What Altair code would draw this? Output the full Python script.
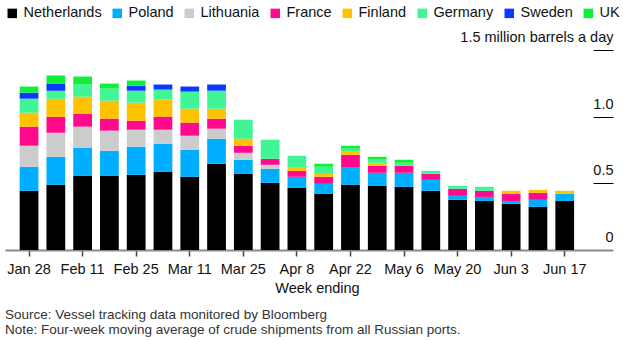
import altair as alt
import pandas as pd

weeks = ["Jan 28", "Feb 4", "Feb 11", "Feb 18", "Feb 25", "Mar 4", "Mar 11", "Mar 18",
         "Mar 25", "Apr 1", "Apr 8", "Apr 15", "Apr 22", "Apr 29", "May 6", "May 13",
         "May 20", "May 27", "Jun 3", "Jun 10", "Jun 17"]
tick_weeks = weeks[::2]

countries = ["Netherlands", "Poland", "Lithuania", "France", "Finland", "Germany", "Sweden", "UK"]
colors = ["#000000", "#00aeff", "#cccccc", "#ff0a8c", "#ffc200", "#3ff595", "#0a38ff", "#10f03a"]

# million barrels a day (segment values)
netherlands = [0.444, 0.489, 0.556, 0.556, 0.564, 0.586, 0.549, 0.647, 0.571, 0.504, 0.466,
               0.421, 0.489, 0.481, 0.474, 0.444, 0.376, 0.368, 0.346, 0.323, 0.368]
poland = [0.180, 0.210, 0.211, 0.188, 0.210, 0.211, 0.203, 0.188, 0.106, 0.105, 0.083,
          0.075, 0.128, 0.098, 0.105, 0.082, 0.030, 0.030, 0.022, 0.053, 0.053]
lithuania = [0.158, 0.181, 0.158, 0.151, 0.128, 0.105, 0.105, 0.075, 0.052, 0.030, 0.0,
             0.0, 0.0, 0.0, 0.0, 0.0, 0.0, 0.0, 0.0, 0.0, 0.0]
france = [0.143, 0.120, 0.098, 0.090, 0.068, 0.098, 0.098, 0.075, 0.053, 0.045, 0.045,
          0.053, 0.097, 0.053, 0.053, 0.045, 0.053, 0.046, 0.053, 0.053, 0.0]
finland = [0.105, 0.135, 0.127, 0.135, 0.135, 0.128, 0.105, 0.075, 0.053, 0.0, 0.023,
           0.022, 0.023, 0.022, 0.0, 0.0, 0.0, 0.0, 0.023, 0.022, 0.023]
germany = [0.105, 0.060, 0.091, 0.091, 0.090, 0.075, 0.128, 0.135, 0.142, 0.143, 0.090,
           0.053, 0.022, 0.023, 0.022, 0.023, 0.022, 0.030, 0.0, 0.0, 0.0]
sweden = [0.045, 0.053, 0.0, 0.0, 0.038, 0.038, 0.038, 0.046, 0.0, 0.0, 0.0,
          0.0, 0.0, 0.0, 0.0, 0.0, 0.0, 0.0, 0.0, 0.0, 0.0]
uk = [0.046, 0.060, 0.060, 0.037, 0.038, 0.0, 0.0, 0.0, 0.0, 0.0, 0.0,
      0.023, 0.023, 0.022, 0.023, 0.0, 0.0, 0.0, 0.0, 0.0, 0.0]

series = [netherlands, poland, lithuania, france, finland, germany, sweden, uk]

rows = []
for ci, (name, vals) in enumerate(zip(countries, series)):
    for w, v in zip(weeks, vals):
        rows.append({"week": w, "country": name, "value": v, "order": ci})
df = pd.DataFrame(rows)

FONT = "Liberation Sans"

bars = alt.Chart(df).mark_bar().encode(
    x=alt.X("week:N", sort=weeks,
            scale=alt.Scale(paddingInner=0.3, paddingOuter=1, align=0.274),
            axis=alt.Axis(values=tick_weeks, title="Week ending", labelAngle=0,
                          labelFontSize=14.5, labelColor="#111", labelFont=FONT,
                          labelPadding=6, tickSize=6, tickColor="#444", tickWidth=1.5,
                          domainColor="#8a8a8a", domainWidth=2,
                          titleFontSize=14.5, titleFontWeight="normal", titleColor="#111",
                          titleFont=FONT, titlePadding=6, titleX=312)),
    y=alt.Y("value:Q", stack="zero",
            scale=alt.Scale(domain=[0, 1.5], nice=False),
            axis=alt.Axis(orient="right", values=[0, 0.5, 1.0, 1.5], title=None,
                          offset=-20, domain=False, grid=False,
                          tickSize=20, tickColor="#000", tickWidth=1,
                          tickOpacity={"condition": {"test": "datum.value === 0", "value": 0}, "value": 1},
                          labelAlign="right", labelPadding=0, labelBaseline="alphabetic",
                          labelOffset=-8.5, labelFontSize=14.5, labelColor="#111", labelFont=FONT,
                          labelExpr="datum.value === 0 ? '0' : (datum.value === 1.5 ? '1.5 million barrels a day' : format(datum.value, '.1f'))")),
    color=alt.Color("country:N", sort=countries,
                    scale=alt.Scale(domain=countries, range=colors),
                    legend=alt.Legend(orient="none", legendX=0, legendY=-44,
                                      direction="horizontal", title=None,
                                      symbolType="square", symbolSize=90,
                                      symbolStrokeWidth=0, labelFontSize=14.5,
                                      labelFont=FONT, labelColor="#111",
                                      labelOffset=4, columnPadding=8, padding=0,
                                      labelLimit=200)),
    order=alt.Order("order:Q", sort="ascending"),
)

chart = bars.properties(
    width=608,
    height=200,
    autosize=alt.AutoSizeParams(type="none"),
    padding={"left": 5, "top": 50, "right": 10, "bottom": 90},
    title=alt.TitleParams(
        text=["Source: Vessel tracking data monitored by Bloomberg",
              "Note: Four-week moving average of crude shipments from all Russian ports."],
        orient="bottom", anchor="start", fontSize=13.5, fontWeight="normal",
        color="#333", font=FONT, lineHeight=15, offset=13, frame="group"),
).configure_view(stroke=None)

chart.save("out.html", embed_options={"renderer": "svg", "actions": False})
